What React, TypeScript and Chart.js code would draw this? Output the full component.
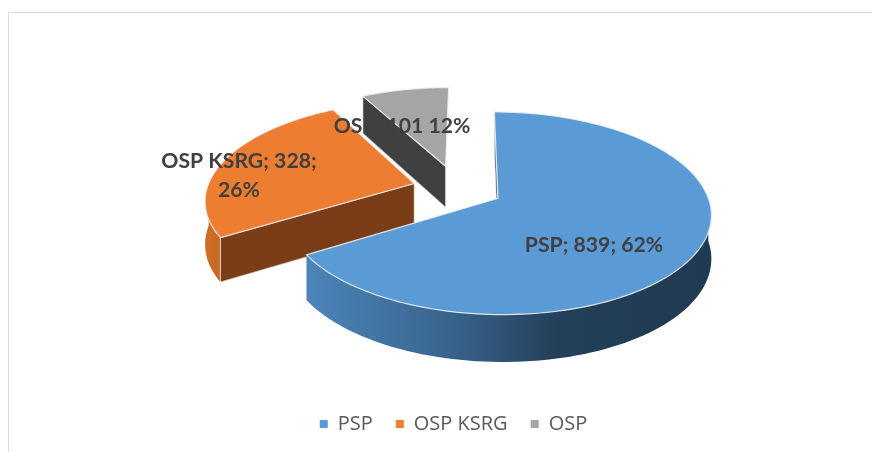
import { useEffect, useRef } from "react";
import { Chart, registerables } from "chart.js";

Chart.register(...registerables);

const categories = ["PSP", "OSP KSRG", "OSP"];
const values = [839, 328, 101];
const topColors = ["#5b9bd5", "#ed7d31", "#a5a5a5"];
const labelLines = [["PSP; 839; 62%"], ["OSP KSRG; 328;", "26%"], ["OSP; 101 12%"]];
const labelCenters = [[594, 245], [239, 161], [402, 126]];
const sliceShifts = [[28, -15.5], [-56, 16], [-25, 55]];

const RADIUS = 208;
const TILT = 0.466;
const PERSPECTIVE = 0.147;
const DX = 16.2;
const DY = -4.6;

function App() {
  const ref = useRef<HTMLCanvasElement>(null);
  useEffect(() => {
    const pie3d = {
      id: "pie3d",
      beforeDatasetsDraw(chart: any) {
        const ctx = chart.ctx;
        const arcs = chart.getDatasetMeta(0).data;
        const cx = arcs[0].x + DX;
        const cy = arcs[0].y + DY;
        const R = arcs[0].outerRadius;
        const proj = (X: number, Y: number, down = false) => {
          const w = 1 + (PERSPECTIVE * Y) / R;
          const drop = down ? 42.5 - 0.022 * Y : 0;
          return [cx + X / w, cy - (TILT * Y) / w + drop];
        };
        const rim = (i: number, t: number) => [
          sliceShifts[i][0] + R * Math.cos(t),
          sliceShifts[i][1] - R * Math.sin(t),
        ];
        const poly = (pts: number[][], fill: any, stroke?: string) => {
          ctx.beginPath();
          pts.forEach((p, n) => (n ? ctx.lineTo(p[0], p[1]) : ctx.moveTo(p[0], p[1])));
          ctx.closePath();
          ctx.fillStyle = fill;
          ctx.fill();
          if (stroke) {
            ctx.strokeStyle = stroke;
            ctx.lineWidth = 1.2;
            ctx.stroke();
          }
        };
        const radialWall = (i: number, t: number, fill: string) => {
          const [sx, sy] = sliceShifts[i];
          const [rx, ry] = rim(i, t);
          poly(
            [proj(sx, sy), proj(rx, ry), proj(rx, ry, true), proj(sx, sy, true)],
            fill,
            "rgba(255,255,255,0.55)"
          );
        };
        const outerWall = (i: number, t0: number, t1: number, fill: any) => {
          const top: number[][] = [];
          const bot: number[][] = [];
          for (let n = 0; n <= 80; n++) {
            const [x, y] = rim(i, t0 + ((t1 - t0) * n) / 80);
            top.push(proj(x, y));
            bot.unshift(proj(x, y, true));
          }
          poly([...top, ...bot], fill);
        };
        const topFace = (i: number) => {
          const el = arcs[i];
          const pts: number[][] = [proj(sliceShifts[i][0], sliceShifts[i][1])];
          for (let n = 0; n <= 160; n++) {
            const [x, y] = rim(i, el.startAngle + ((el.endAngle - el.startAngle) * n) / 160);
            pts.push(proj(x, y));
          }
          poly(pts, topColors[i], "rgba(240,240,240,0.85)");
        };

        // Back to front: grey, orange, blue
        radialWall(2, arcs[2].startAngle, "#404040");
        topFace(2);

        const orangeWall = ctx.createLinearGradient(205, 0, 235, 0);
        orangeWall.addColorStop(0, "#d06e27");
        orangeWall.addColorStop(1, "#b9621f");
        outerWall(1, arcs[1].startAngle, Math.PI, orangeWall);
        radialWall(1, arcs[1].startAngle, "#7a3d17");
        topFace(1);

        const blueWall = ctx.createLinearGradient(310, 0, 712, 0);
        blueWall.addColorStop(0, "#4c84ba");
        blueWall.addColorStop(0.35, "#38648c");
        blueWall.addColorStop(0.62, "#243f59");
        blueWall.addColorStop(1, "#203a50");
        radialWall(0, arcs[0].startAngle, "#2a4560");
        outerWall(0, 0, arcs[0].endAngle, blueWall);
        topFace(0);

        // Data labels
        ctx.fillStyle = "#404040";
        ctx.font = 'bold 21.2px Lato, "Open Sans", sans-serif';
        ctx.textAlign = "center";
        ctx.textBaseline = "middle";
        labelLines.forEach((lines, i) => {
          lines.forEach((line, n) => {
            ctx.fillText(line, labelCenters[i][0], labelCenters[i][1] + n * 29);
          });
        });
        return false;
      },
    };

    const chart = new Chart(ref.current!, {
      type: "pie",
      data: {
        labels: categories,
        datasets: [{ data: values, backgroundColor: topColors, borderWidth: 0 }],
      },
      options: {
        responsive: false,
        animation: false,
        radius: RADIUS,
        layout: { padding: { left: 35, right: 0, top: 0, bottom: 0 } },
        plugins: {
          tooltip: { enabled: false },
          title: { display: false },
          legend: {
            display: true,
            position: "bottom",
            labels: {
              boxWidth: 8,
              boxHeight: 8,
              padding: 23,
              color: "#595959",
              font: { family: '"Open Sans", sans-serif', size: 20 },
            },
          },
        },
      } as any,
      plugins: [pie3d],
    });
    return () => chart.destroy();
  }, []);

  return (
    <div style={{ position: "absolute", left: 0, top: 0, width: 872, height: 452, overflow: "hidden", background: "#fff" }}>
      <div style={{ position: "absolute", left: 8, top: 12, width: 900, height: 500, border: "1.5px solid #d9d9d9", boxSizing: "border-box" }} />
      <canvas ref={ref} width={872} height={444} style={{ position: "absolute", left: 0, top: 0, display: "block" }} />
    </div>
  );
}

export default App;
